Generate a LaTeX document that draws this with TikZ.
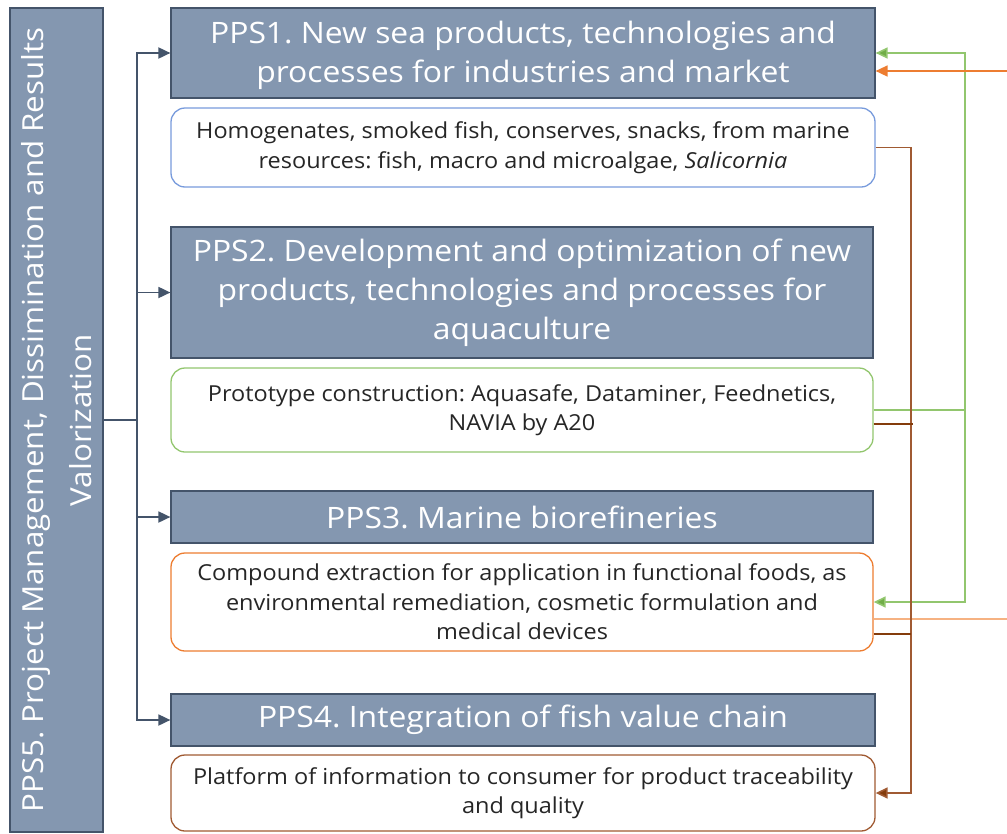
\documentclass[tikz,border=0pt]{standalone}
\usepackage{fontspec}
\setmainfont{Open Sans}
\newfontfamily\hdrfont[FakeStretch=1.08]{Open Sans}
\newfontfamily\subfont[FakeStretch=1.067]{Open Sans}
\usetikzlibrary{arrows.meta,calc}

\definecolor{hdrfill}{RGB}{132,151,176}
\definecolor{hdrline}{RGB}{68,84,106}
\definecolor{txtdark}{RGB}{38,38,38}
\definecolor{cblue}{RGB}{120,155,220}
\definecolor{cgreen}{RGB}{146,198,110}
\definecolor{cgreenhead}{RGB}{112,173,71}
\definecolor{corange}{RGB}{237,125,49}
\definecolor{corangelight}{RGB}{246,178,130}
\definecolor{cbrown}{RGB}{160,90,50}
\definecolor{cbrownhead}{RGB}{132,60,12}

\tikzset{
  hdr/.style={draw=hdrline, line width=1.2pt, fill=hdrfill, text=white,
    align=center, inner sep=0pt, font=\hdrfont\fontsize{29.5}{39}\selectfont},
  subbox/.style={draw, line width=1.3pt, rounded corners=14pt, fill=white,
    text=txtdark, align=center, inner sep=0pt, font=\subfont\fontsize{22}{29.5}\selectfont},
  feed/.style={line width=1.8pt, draw=hdrline,
    -{Triangle[length=12pt,width=11pt]}},
  trunk/.style={line width=1.8pt, draw=hdrline},
  link/.style={line width=1.6pt}
}

\begin{document}
\frenchspacing
\begin{tikzpicture}[x=1pt,y=-1pt]
\useasboundingbox (0,0) rectangle (1007,833);

% vertical management bar
\node[hdr, rotate=90, minimum width=824pt, minimum height=93pt,
  font=\hdrfont\fontsize{29}{48}\selectfont]
  (pm) at (56.5,420) {PPS5. Project Management, Dissimination and Results\\Valorization};

% work-package headers
\node[hdr, minimum width=704pt, minimum height=90pt, text depth=2pt] (h1) at (523,53)
  {PPS1. New sea products, technologies and\\processes for industries and market};
\node[hdr, minimum width=702pt, minimum height=131pt] (h2) at (522,292.5)
  {PPS2. Development and optimization of new\\products, technologies and processes for\\aquaculture};
\node[hdr, minimum width=702pt, minimum height=52pt] (h3) at (522,517)
  {PPS3. Marine biorefineries};
\node[hdr, minimum width=704pt, minimum height=52pt] (h4) at (523,720)
  {PPS4. Integration of fish value chain};

% outcome boxes
\node[subbox, draw=cblue, minimum width=704pt, minimum height=79pt] (s1) at (523,147.5)
  {Homogenates, smoked fish, conserves, snacks, from marine\\resources: fish, macro and microalgae, \textit{Salicornia}};
\node[subbox, draw=cgreen, minimum width=702pt, minimum height=84pt] (s2) at (522,410)
  {Prototype construction: Aquasafe, Dataminer, Feednetics,\\NAVIA by A20};
\node[subbox, draw=corange, minimum width=702pt, minimum height=98pt] (s3) at (522,602)
  {Compound extraction for application in functional foods, as\\environmental remediation, cosmetic formulation and\\medical devices};
\node[subbox, draw=cbrown, minimum width=704pt, minimum height=76pt] (s4) at (523,793)
  {Platform of information to consumer for product traceability\\and quality};

% management trunk feeding every header
\coordinate (j) at (137,420);
\coordinate (jt) at (137,53);
\coordinate (jb) at (137,720);
\draw[trunk] (pm.south) -- (j);
\draw[trunk] (jt) -- (jb);
\draw[feed] (j) |- (h1.west);
\draw[feed] (j) |- (h2.west);
\draw[feed] (j) |- (h3.west);
\draw[feed] (j) |- (h4.west);

% green links from PPS2 outcomes
\coordinate (g) at (965,410);
\draw[link, cgreen] (s2.east) -- (g);
\draw[link, cgreen, -{Triangle[length=12pt,width=11pt,fill=cgreenhead]}] (g) |- (h1.east);
\draw[link, cgreen, -{Triangle[length=12pt,width=11pt,fill=cgreenhead]}] (g) |- (s3.east);

% orange links from PPS3 outcomes
\coordinate (o1) at (1007,619);
\coordinate (o2) at (1007,71);
\draw[link, corangelight] (s3.east |- o1) -- (o1);
\draw[link, corange, -{Triangle[length=12pt,width=11pt]}] (o2) -- (h1.east |- o2);

% brown links into PPS4 outcomes
\coordinate (b) at (911,147.5);
\coordinate (bb) at (911,793);
\draw[link, cbrown, -{Triangle[length=12pt,width=11pt,fill=cbrownhead]}]
  (s1.east) -- (b) -- (bb) -- (s4.east);
\draw[link, cbrownhead] ($(s2.east)+(0,14)$) -- ($(b |- s2.east)+(2,14)$);
\draw[link, cbrownhead] ($(s3.east)+(0,32)$) -- ($(b |- s3.east)+(0,32)$);
\end{tikzpicture}
\end{document}
